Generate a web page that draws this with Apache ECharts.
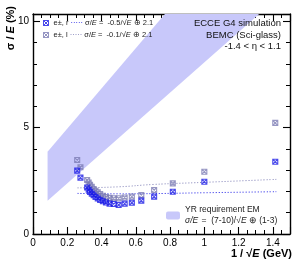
<!DOCTYPE html>
<html>
<head>
<meta charset="utf-8">
<script src="https://cdn.jsdelivr.net/npm/echarts@6/dist/echarts.min.js"></script>
<style>
html, body { margin: 0; padding: 0; background: #fff; }
#main { width: 294px; height: 260px; }
</style>
</head>
<body>
<div id="main"></div>
<script>
// measured points, x = 1/sqrt(E)
var xPts = [0.258, 0.277, 0.316, 0.325, 0.333, 0.343, 0.354, 0.365, 0.378, 0.392, 0.408,
            0.426, 0.447, 0.471, 0.5, 0.535, 0.577, 0.632, 0.707, 0.816, 1.0, 1.414];
var resR = [2.98, 2.65, 2.19, 2.08, 1.98, 1.9, 1.82, 1.74, 1.67, 1.6, 1.54,
            1.48, 1.43, 1.41, 1.37, 1.43, 1.47, 1.57, 1.76, 1.99, 2.46, 3.40];
var resL = [3.48, 3.14, 2.54, 2.42, 2.32, 2.22, 2.12, 2.03, 1.96, 1.88, 1.8,
            1.74, 1.7, 1.68, 1.68, 1.72, 1.76, 1.83, 2.07, 2.38, 2.93, 5.23];

// fit curves (dotted)
var fitX = [0.26, 0.5, 0.7, 1.0, 1.42];
var fitR = [1.91, 1.89, 1.9, 1.94, 1.99];
var fitL = [2.17, 2.22, 2.33, 2.43, 2.57];

// YR requirement band outline
var bandX = [0.085, 0.085, 0.77, 1.32];
var bandY = [1.57, 3.87, 10.35, 10.35];

var xMin = 0, xMax = 1.5, yMin = 0, yMax = 10.35;

var colR = '#1c1ce6';
var colL = '#7c7cb4';
var colBand = '#c8c8fa';
var FONT = 'Liberation Sans';
var marker = 'path://M0,0L10,0L10,10L0,10ZM0,0L10,10M10,0L0,10';

function pairs(xs, ys) {
    return xs.map(function (x, i) { return [x, ys[i]]; });
}

function frameAxis(pos, isX, show) {
    var ax = {
        type: 'value',
        position: pos,
        min: isX ? xMin : yMin,
        max: isX ? xMax : yMax,
        interval: isX ? 0.2 : 5,
        axisLine: { show: true, onZero: false, lineStyle: { color: '#000', width: 1.4 } },
        axisTick: { show: true, inside: true, length: 7, lineStyle: { color: '#000', width: 1.1 } },
        minorTick: { show: true, splitNumber: isX ? 4 : 5, length: 4, lineStyle: { color: '#000', width: 1 } },
        splitLine: { show: false },
        axisLabel: {
            show: show, showMaxLabel: false, margin: 4,
            fontFamily: FONT, fontSize: 10, color: '#000'
        }
    };
    return ax;
}

var rich = {
    t: { fontFamily: FONT, fontSize: 7.5, color: '#222' },
    i: { fontFamily: FONT, fontSize: 7.5, color: '#222', fontStyle: 'italic' },
    r: { fontFamily: FONT, fontSize: 7.5, color: colR },
    l: { fontFamily: FONT, fontSize: 7.5, color: colL },
    a: { fontFamily: FONT, fontSize: 8.5, color: '#222', lineHeight: 11 },
    b: { fontFamily: FONT, fontSize: 8.5, color: '#222', lineHeight: 11 },
    bi: { fontFamily: FONT, fontSize: 8.5, color: '#222', fontStyle: 'italic', lineHeight: 11 }
};

var dom = document.getElementById('main');
var myChart = echarts.init(dom);
var option = {
    animation: false,
    grid: { left: 33, right: 4, top: 14, bottom: 26 },
    xAxis: [frameAxis('bottom', true, true), frameAxis('top', true, false)],
    yAxis: [frameAxis('left', false, true), frameAxis('right', false, false)],
    legend: [{
        data: [
            { name: 'e±, r', itemStyle: { color: 'rgba(0,0,0,0)', borderColor: colR, borderWidth: 1 } },
            { name: 'e±, l', itemStyle: { color: 'rgba(0,0,0,0)', borderColor: colL, borderWidth: 1 } }
        ],
        orient: 'vertical',
        left: 43, top: 19,
        itemWidth: 5, itemHeight: 5, itemGap: 4, padding: 0,
        formatter: function (name) {
            var c = name === 'e±, r' ? 'r' : 'l';
            var a = name === 'e±, r' ? '-0.5' : '-0.1';
            return '{t|' + name + ' }{' + c + '|·····}{t| σ/}{i|E}{t| =  ' + a + '/√}{i|E}{t| ⊕ 2.1}';
        },
        textStyle: { rich: rich }
    }, {
        data: ['YR requirement EM'],
        left: 166, top: 205,
        itemWidth: 14, itemHeight: 8, padding: 0,
        formatter: function (name) {
            return '{a|' + name + '}\n{bi|σ/E} {b|=  (7-10)/√}{bi|E}{b| ⊕ (1-3)}';
        },
        textStyle: { rich: rich }
    }],
    graphic: [{
        type: 'text', x: 11, y: 6, rotation: Math.PI / 2, z: 100,
        style: {
            text: '{a|σ / }{b|E}{a| (%)}', align: 'right', verticalAlign: 'middle',
            rich: {
                a: { fontFamily: FONT, fontSize: 11, fontWeight: 'bold', fill: '#000' },
                b: { fontFamily: FONT, fontSize: 11, fontWeight: 'bold', fontStyle: 'italic', fill: '#000' }
            }
        }
    }, {
        type: 'text', x: 292, y: 254, z: 100,
        style: {
            text: '{a|1 / √}{b|E}{a| (GeV)}', align: 'right', verticalAlign: 'middle',
            rich: {
                a: { fontFamily: FONT, fontSize: 11, fontWeight: 'bold', fill: '#000' },
                b: { fontFamily: FONT, fontSize: 11, fontWeight: 'bold', fontStyle: 'italic', fill: '#000' }
            }
        }
    }, {
        type: 'text', x: 281, y: 23, z: 100,
        style: { text: 'ECCE G4 simulation', align: 'right', verticalAlign: 'middle', font: '9.5px "Liberation Sans"', fill: '#111' }
    }, {
        type: 'text', x: 281, y: 35, z: 100,
        style: { text: 'BEMC (Sci-glass)', align: 'right', verticalAlign: 'middle', font: '9.5px "Liberation Sans"', fill: '#111' }
    }, {
        type: 'text', x: 281, y: 46, z: 100,
        style: { text: '-1.4 < η < 1.1', align: 'right', verticalAlign: 'middle', font: '9.5px "Liberation Sans"', fill: '#111' }
    }],
    series: [{
        name: 'YR requirement EM',
        type: 'custom',
        itemStyle: { color: colBand },
        data: [[bandX[0], bandY[0]]],
        z: 1,
        renderItem: function (params, api) {
            var pts = bandX.map(function (x, i) { return api.coord([x, bandY[i]]); });
            return { type: 'polygon', shape: { points: pts }, style: { fill: colBand } };
        }
    }, {
        name: 'fit l', type: 'line', smooth: true, showSymbol: false, z: 2,
        data: pairs(fitX, fitL),
        lineStyle: { color: colL, width: 1, type: [1, 2] }
    }, {
        name: 'fit r', type: 'line', smooth: true, showSymbol: false, z: 2,
        data: pairs(fitX, fitR),
        lineStyle: { color: colR, width: 1, type: [1, 2] }
    }, {
        name: 'e±, l', type: 'scatter', z: 3,
        symbol: marker, symbolSize: 5,
        itemStyle: { color: 'rgba(0,0,0,0)', borderColor: colL, borderWidth: 1.1 },
        data: pairs(xPts, resL)
    }, {
        name: 'e±, r', type: 'scatter', z: 4,
        symbol: marker, symbolSize: 5,
        itemStyle: { color: 'rgba(0,0,0,0)', borderColor: colR, borderWidth: 1.1 },
        data: pairs(xPts, resR)
    }]
};

if (option && typeof option === "object") {
    myChart.setOption(option, true);
}
</script>
</body>
</html>
